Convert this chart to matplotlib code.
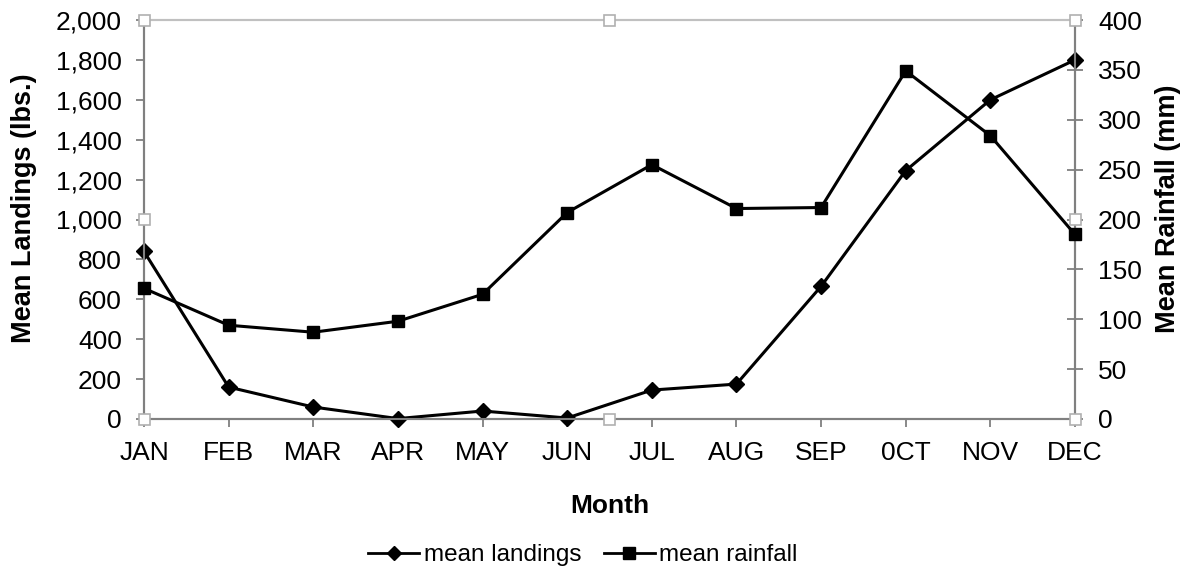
import matplotlib
matplotlib.use("Agg")
import matplotlib.pyplot as plt
from matplotlib.lines import Line2D
from matplotlib.patches import Rectangle

months = ["JAN", "FEB", "MAR", "APR", "MAY", "JUN", "JUL", "AUG", "SEP", "0CT", "NOV", "DEC"]
mean_landings = [840, 160, 60, 2, 40, 5, 145, 175, 665, 1245, 1600, 1800]
mean_rainfall = [131, 94, 87, 98, 125, 207, 255, 211, 212, 349, 284, 185]

plt.rcParams['font.family'] = ['Liberation Sans', 'DejaVu Sans']

W, H = 1189, 569
fig = plt.figure(figsize=(W / 100, H / 100), dpi=100)
L, R, T, B = 144, 1075, 20, 419
ax = fig.add_axes([L / W, 1 - B / H, (R - L) / W, (B - T) / H])
ax2 = ax.twinx()

x = list(range(len(months)))
ax.plot(x, mean_landings, color='black', lw=2.2, marker='D', ms=8, zorder=5, clip_on=False)
ax2.plot(x, mean_rainfall, color='black', lw=2.2, marker='s', ms=8.5, zorder=5, clip_on=False)

ax.set_xlim(0, 11)
ax.set_ylim(0, 2000)
ax2.set_ylim(0, 400)
ax.set_xticks(x)
ax.set_xticklabels(months)
ax.set_yticks(range(0, 2001, 200))
ax.set_yticklabels([f"{v:,}" for v in range(0, 2001, 200)])
ax2.set_yticks(range(0, 401, 50))

for a in (ax, ax2):
    for s in a.spines.values():
        s.set_color('#808080')
        s.set_linewidth(1.5)
    a.spines['top'].set_color('#c0c0c0')
    a.spines['top'].set_linewidth(1.5)

FS = 19
ax.tick_params(axis='both', labelsize=FS, colors='#808080', labelcolor='black', width=1.3, length=6)
ax.tick_params(axis='y', direction='out', pad=10)
ax.tick_params(axis='x', direction='out', pad=10)
ax2.tick_params(axis='y', labelsize=FS, colors='#808080', labelcolor='black', width=1.3, length=11,
                direction='inout', pad=11)

ax.set_ylabel("Mean Landings (lbs.)", fontsize=19.5, fontweight='bold')
ax2.set_ylabel("Mean Rainfall (mm)", fontsize=19.5, fontweight='bold')
ax.set_xlabel("Month", fontsize=19, fontweight='bold')
ax.yaxis.set_label_coords((37 - L) / (R - L), (B - 208.5) / (B - T))
ax2.yaxis.set_label_coords((1155 - L) / (R - L), (B - 208.5) / (B - T))
ax.xaxis.set_label_coords(0.5, (B - 494) / (B - T))

# selection handles
for (hx, hy) in [(L, T), ((L + R) / 2, T), (R, T), (L, (T + B) / 2), (R, (T + B) / 2),
                 (L, B), ((L + R) / 2, B), (R, B)]:
    s = 11
    fig.patches.append(Rectangle(((hx - s / 2) / W, 1 - (hy + s / 2) / H), s / W, s / H,
                                 transform=fig.transFigure, facecolor='white',
                                 edgecolor='#b0b0b0', lw=1.2, zorder=10))

handles = [Line2D([], [], color='black', lw=2, marker='D', ms=7),
           Line2D([], [], color='black', lw=2, marker='s', ms=8)]
fig.legend(handles, ["mean landings", "mean rainfall"], loc='center',
           bbox_to_anchor=(583 / W, 1 - 555 / H), ncol=2, frameon=False, fontsize=17.5,
           handlelength=2.1, handletextpad=0.2, columnspacing=0.9, borderaxespad=0)

fig.savefig("out.png", dpi=100)
